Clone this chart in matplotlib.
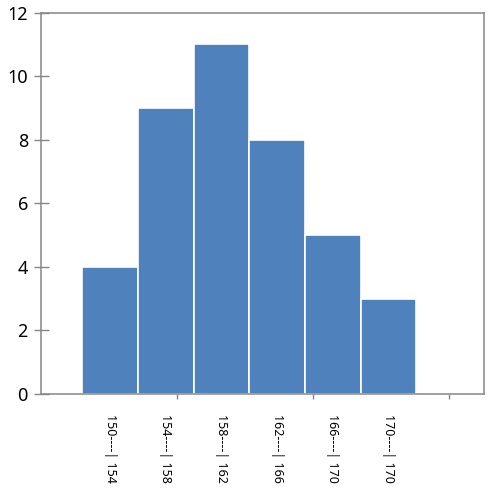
#!/usr/bin/env python3
"""Frequency histogram of height classes, Excel-style column chart."""

import matplotlib

matplotlib.use("Agg")
import matplotlib.pyplot as plt
import numpy as np

CLASSES = ["150----| 154", "154----| 158", "158----| 162",
           "162----| 166", "166----| 170", "170----| 170"]
COUNTS = [4, 9, 11, 8, 5, 3]
Y_TICKS = [0, 2, 4, 6, 8, 10, 12]

BAR_COLOR = "#4F81BD"
AXIS_COLOR = "#868686"

W, H = 495, 496

plt.rcParams.update({"font.family": ["Noto Sans", "DejaVu Sans"]})

fig = plt.figure(figsize=(W / 100, H / 100), dpi=100)
ax = fig.add_axes([41 / W, (H - 394) / H, (484 - 41) / W, (394 - 12.5) / H])

x = np.arange(len(CLASSES))
ax.bar(x, COUNTS, width=1.0, color=BAR_COLOR, edgecolor="white", linewidth=1.2)

ax.set_xlim(-1.239, 6.714)
ax.set_ylim(0, 12)
ax.set_yticks(Y_TICKS)
ax.set_yticklabels([str(v) for v in Y_TICKS], fontsize=13, color="black")
ax.tick_params(axis="y", direction="inout", length=10.8, width=1.0,
               color=AXIS_COLOR, pad=4)

# category axis: unlabeled tick marks, labels drawn under each bar
ax.set_xticks([1.2, 3.645, 6.09])
ax.set_xticklabels([])
ax.tick_params(axis="x", direction="out", length=3.6, width=1.0, color=AXIS_COLOR)
for xi, lab in zip(x, CLASSES):
    ax.annotate(lab, xy=(xi, 0), xycoords=("data", "axes fraction"),
                xytext=(0, -14.5), textcoords="offset points",
                rotation=270, ha="center", va="top", fontsize=9)

for spine in ax.spines.values():
    spine.set_color(AXIS_COLOR)
    spine.set_linewidth(1.1)

fig.savefig("out.png", dpi=100)
